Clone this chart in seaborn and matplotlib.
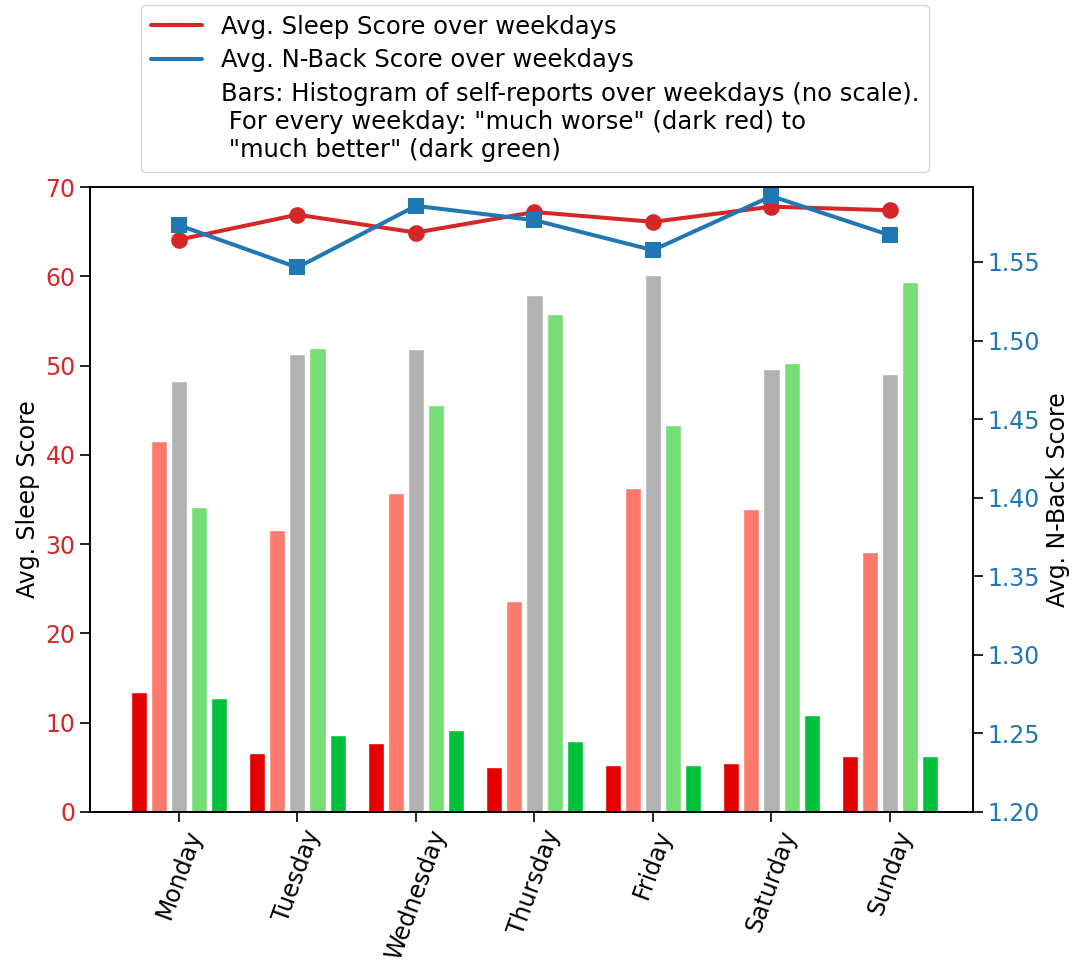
import numpy as np
import pandas as pd
import matplotlib
matplotlib.use("Agg")
import matplotlib.pyplot as plt
from matplotlib.lines import Line2D
import seaborn as sns

days = ["Monday", "Tuesday", "Wednesday", "Thursday", "Friday", "Saturday", "Sunday"]
sleep_score = [64.1, 66.9, 64.9, 67.2, 66.1, 67.8, 67.4]
nback_score = [1.5734, 1.5465, 1.5857, 1.5766, 1.5575, 1.5919, 1.567]

report_levels = ["much worse", "worse", "same", "better", "much better"]
much_worse = [13.4, 6.6, 7.7, 5.0, 5.26, 5.49, 6.27]
worse = [41.55, 31.58, 35.73, 23.63, 36.29, 33.93, 29.12]
same = [48.27, 51.3, 51.85, 57.9, 60.14, 49.61, 49.05]
better = [34.16, 51.97, 45.58, 55.77, 43.34, 50.28, 59.4]
much_better = [12.77, 8.6, 9.2, 7.95, 5.26, 10.86, 6.27]

bar_colors = ["#e50000", "#ff796c", "#b2b2b2", "#77dd77", "#00c03c"]

FS = 17

sns.set_style("ticks")
plt.rcParams["font.family"] = ["DejaVu Sans"]
plt.rcParams["font.size"] = FS
plt.rcParams["text.color"] = "black"
plt.rcParams["axes.labelcolor"] = "black"
plt.rcParams["xtick.color"] = "black"
plt.rcParams["ytick.color"] = "black"

rows = []
for lvl, vals in zip(report_levels, [much_worse, worse, same, better, much_better]):
    for d, v in zip(days, vals):
        rows.append({"day": d, "level": lvl, "count": v})
df = pd.DataFrame(rows)

fig = plt.figure(figsize=(10.83, 9.68), dpi=100)
ax1 = fig.add_axes([0.0831, 0.1612, 0.8153, 0.6456])

sns.barplot(data=df, x="day", y="count", hue="level", order=days,
            hue_order=report_levels, palette=bar_colors, width=0.85, gap=0.2,
            saturation=1, legend=False, ax=ax1)

xpos = np.arange(len(days))
sns.lineplot(x=xpos, y=sleep_score, color="#d62728", marker="o", markersize=12,
             markeredgewidth=0, linewidth=2.9, ax=ax1)

ax2 = ax1.twinx()
sns.lineplot(x=xpos, y=nback_score, color="#1f77b4", marker="s", markersize=12,
             markeredgewidth=0, linewidth=2.9, ax=ax2)

ax1.set_xlim(-0.75, 6.7)
ax1.set_ylim(0, 70)
ax2.set_ylim(1.20, 1.5977)
ax2.set_yticks([1.20, 1.25, 1.30, 1.35, 1.40, 1.45, 1.50, 1.55])

ax1.set_xlabel("")
ax1.set_ylabel("Avg. Sleep Score", fontsize=FS, color="black")
ax2.set_ylabel("Avg. N-Back Score", fontsize=FS, color="black")
ax1.set_xticks(xpos)
ax1.set_xticklabels(days, rotation=70, fontsize=FS, color="black")

ax1.tick_params(axis="y", labelcolor="#d62728", color="black", labelsize=FS, length=7, width=1.2)
ax1.tick_params(axis="x", labelsize=FS, length=7, width=1.2, color="black")
ax2.tick_params(axis="y", labelcolor="#1f77b4", color="black", labelsize=FS, length=7, width=1.2)
for ax in (ax1, ax2):
    for s in ax.spines.values():
        s.set_color("black")
        s.set_linewidth(1.2)
        s.set_visible(True)

handles = [
    Line2D([0], [0], color="#d62728", linewidth=2.9),
    Line2D([0], [0], color="#1f77b4", linewidth=2.9),
    Line2D([0], [0], color="none", linewidth=0),
]
labels = [
    "Avg. Sleep Score over weekdays",
    "Avg. N-Back Score over weekdays",
    "Bars: Histogram of self-reports over weekdays (no scale).\n For every weekday: \"much worse\" (dark red) to\n \"much better\" (dark green)",
]
fig.legend(handles, labels, loc="upper center", bbox_to_anchor=(0.494, 0.9948),
           borderaxespad=0, fontsize=17.5, handlelength=2.1, labelspacing=0.4,
           frameon=True, fancybox=True, edgecolor="#cccccc")

fig.savefig("out.png", dpi=100)
